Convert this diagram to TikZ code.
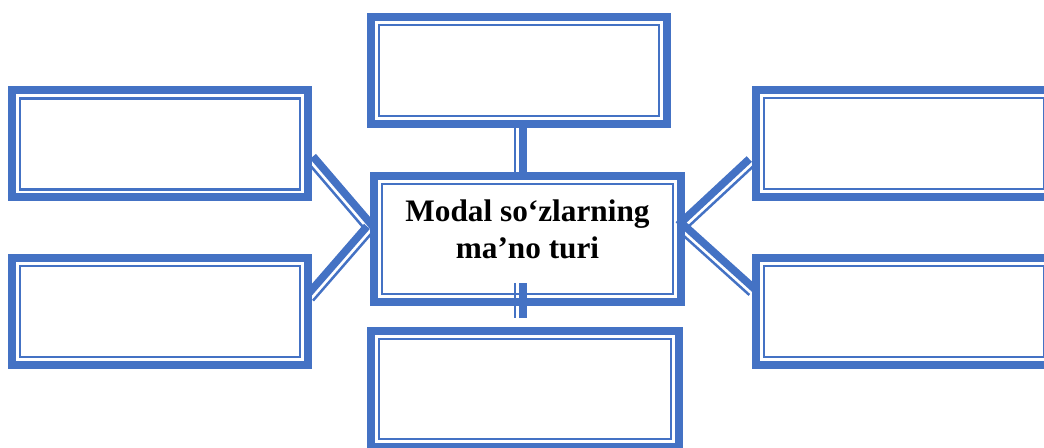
\documentclass[tikz,border=0pt]{standalone}
\usepackage{fontspec}
\setmainfont{Liberation Serif}
\usetikzlibrary{calc}
\definecolor{boxblue}{RGB}{68,114,196}

\tikzset{
  wordbox/.style={draw=boxblue, line width=0.8mm, fill=white, inner sep=0pt,
    minimum width=2.96cm, minimum height=1.07cm,
    path picture={\draw[boxblue, line width=0.25mm]
      ([shift={(0.78mm,0.78mm)}]path picture bounding box.south west) rectangle
      ([shift={(-0.78mm,-0.78mm)}]path picture bounding box.north east);}},
  ttthick/.style={draw=boxblue, line width=0.77mm},
  ttthin/.style={draw=boxblue, line width=0.25mm},
}

% thick-thin connector, thick line on the right of the drawing direction
\newcommand{\ttline}[2]{%
  \draw[ttthick] ($(#1)!0.4mm!-90:(#2)$) -- ($(#2)!0.4mm!90:(#1)$);
  \draw[ttthin] ($(#1)!0.4mm!90:(#2)$) -- ($(#2)!0.4mm!-90:(#1)$);
}

\begin{document}
\begin{tikzpicture}
    \useasboundingbox (0,0) rectangle (10.44,4.48);
    \clip (0,0) rectangle (10.44,4.48);

    \node[wordbox] (up) at (5.19,3.775) {};
    \node[wordbox, minimum width=3.07cm, minimum height=1.26cm, align=center,
          text depth=0.2cm, font=\bfseries\fontsize{8.9}{10.5}\selectfont]
          (mid) at (5.275,2.09) {Modal so‘zlarning\\ma’no turi};
    \node[wordbox, minimum width=3.08cm, minimum height=1.16cm] (down) at (5.25,0.59) {};
    \node[wordbox] (lup) at (1.60,3.04) {};
    \node[wordbox] (ldown) at (1.60,1.365) {};
    \node[wordbox] (rup) at (9.04,3.045) {};
    \node[wordbox] (rdown) at (9.04,1.365) {};

    % connector ends
    \coordinate (ml) at ($(mid.west)+(0,0.1)$);
    \coordinate (mr) at ($(mid.east)+(-0.04,0.11)$);
    \coordinate (lu) at ($(lup.east)+(-0.02,-0.15)$);
    \coordinate (ld) at ($(ldown.east)+(-0.02,0.135)$);
    \coordinate (ru) at ($(rup.west)+(0,-0.185)$);
    \coordinate (rd) at ($(rdown.west)+(0,0.195)$);
    \coordinate (ut) at (up.south);
    \coordinate (um) at (up.south |- mid.north);
    \coordinate (dm) at ($(up.south |- mid.south)+(0,0.23)$);
    \coordinate (db) at ($(up.south |- down.north)+(0,0.09)$);

    \ttline{um}{ut}
    \ttline{db}{dm}
    \ttline{ml}{lu}
    \ttline{ml}{ld}
    \ttline{ru}{mr}
    \ttline{rd}{mr}
\end{tikzpicture}
\end{document}
